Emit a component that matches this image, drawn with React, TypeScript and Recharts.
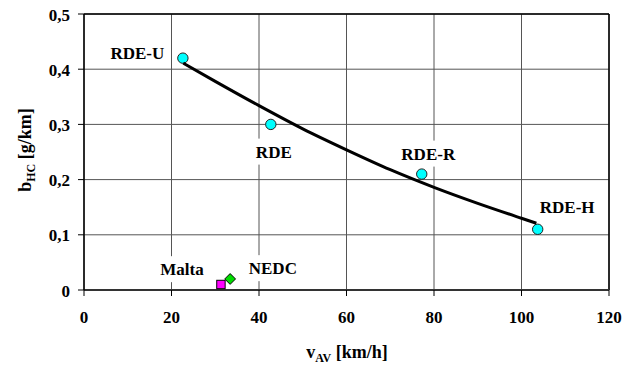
import React from 'react';
import {
  ScatterChart,
  Scatter,
  XAxis,
  YAxis,
  CartesianGrid,
  ReferenceLine,
} from 'recharts';

// ---- data ----
const xTicks = [0, 20, 40, 60, 80, 100, 120];
const yTicks = [0, 0.1, 0.2, 0.3, 0.4, 0.5];
const yTickLabels = ['0', '0,1', '0,2', '0,3', '0,4', '0,5'];

const rdeNames = ['RDE-U', 'RDE', 'RDE-R', 'RDE-H'];
const rdeSpeed = [22.6, 42.7, 77.2, 103.7];
const rdeHC = [0.42, 0.3, 0.21, 0.11];

const maltaName = ['Malta'];
const maltaSpeed = [31.3];
const maltaHC = [0.01];

const nedcName = ['NEDC'];
const nedcSpeed = [33.4];
const nedcHC = [0.02];

const trendSpeed = [22.7, 30, 40, 50, 60, 70, 80, 90, 100, 103.4];
const trendHC = [0.411, 0.378, 0.334, 0.292, 0.254, 0.218, 0.186, 0.157, 0.13, 0.121];

// ---- built tables ----
const rdeData = rdeNames.map((n, i) => ({ name: n, x: rdeSpeed[i], y: rdeHC[i] }));
const maltaData = maltaName.map((n, i) => ({ name: n, x: maltaSpeed[i], y: maltaHC[i] }));
const nedcData = nedcName.map((n, i) => ({ name: n, x: nedcSpeed[i], y: nedcHC[i] }));
const trendData = trendSpeed.map((x, i) => ({ x, y: trendHC[i] }));

// ---- styles ----
const FONT = 'Liberation Serif';
const FS = 17;

// label offsets (center of text relative to marker) and approx widths
const labelStyle: Record<string, { dx: number; dy: number; w: number }> = {
  'RDE-U': { dx: -45.5, dy: -4.8, w: 55 },
  RDE: { dx: 3, dy: 27.2, w: 32 },
  'RDE-R': { dx: 6.5, dy: -20.5, w: 55 },
  'RDE-H': { dx: 29.5, dy: -22, w: 57 },
  Malta: { dx: -39, dy: -15.3, w: 44 },
  NEDC: { dx: 42.7, dy: -10.8, w: 50 },
};

const Label = ({ cx, cy, name }: { cx: number; cy: number; name: string }) => {
  const s = labelStyle[name];
  const lx = cx + s.dx;
  const ly = cy + s.dy;
  return (
    <g>
      <rect x={lx - s.w / 2 - 3} y={ly - 13} width={s.w + 6} height={26} fill="#fff" />
      <text x={lx} y={ly + 6} textAnchor="middle" fontSize={FS} fontWeight="bold" fontFamily={FONT} fill="#000">
        {name}
      </text>
    </g>
  );
};

const CircleShape = (props: any) => {
  const { cx, cy, payload } = props;
  return (
    <g>
      <Label cx={cx} cy={cy} name={payload.name} />
      <circle cx={cx} cy={cy} r={5.2} fill="#00FFFF" stroke="#222" strokeWidth={1} />
    </g>
  );
};

const SquareShape = (props: any) => {
  const { cx, cy, payload } = props;
  return (
    <g>
      <Label cx={cx} cy={cy} name={payload.name} />
      <rect x={cx - 4.2} y={cy - 4.2} width={8.4} height={8.4} fill="#FF00FF" stroke="#000" strokeWidth={1} />
    </g>
  );
};

const DiamondShape = (props: any) => {
  const { cx, cy, payload } = props;
  const r = 5.4;
  return (
    <g>
      <Label cx={cx} cy={cy} name={payload.name} />
      <polygon
        points={`${cx},${cy - r} ${cx + r},${cy} ${cx},${cy + r} ${cx - r},${cy}`}
        fill="#00DD00"
        stroke="#000"
        strokeWidth={1}
      />
    </g>
  );
};

const NoShape = () => <g />;

const XTick = (props: any) => {
  const { x, y, payload } = props;
  return (
    <text x={x} y={y + 27} textAnchor="middle" fontSize={FS} fontWeight="bold" fontFamily={FONT} fill="#000">
      {payload.value}
    </text>
  );
};

const YTick = (props: any) => {
  const { x, y, payload } = props;
  const idx = yTicks.findIndex((t) => Math.abs(t - payload.value) < 1e-6);
  return (
    <text x={x} y={y + 6.5} textAnchor="end" fontSize={FS} fontWeight="bold" fontFamily={FONT} fill="#000">
      {idx >= 0 ? yTickLabels[idx] : payload.value}
    </text>
  );
};

export default function App() {
  return (
    <div style={{ marginLeft: -8, marginTop: -8 }}>
      <ScatterChart width={639} height={369} margin={{ top: 14, right: 30, bottom: 0, left: 0 }}>
        <CartesianGrid stroke="#555" strokeWidth={1} />
        <XAxis
          type="number"
          dataKey="x"
          domain={[0, 120]}
          ticks={xTicks}
          interval={0}
          height={79}
          tickSize={6}
          tickMargin={0}
          tickLine={{ stroke: '#000' }}
          axisLine={{ stroke: '#333', strokeWidth: 2 }}
          tick={<XTick />}
          allowDataOverflow
        />
        <YAxis
          type="number"
          dataKey="y"
          domain={[0, 0.5]}
          ticks={yTicks}
          interval={0}
          width={84}
          tickSize={6}
          tickMargin={8}
          tickLine={{ stroke: '#000' }}
          axisLine={{ stroke: '#000', strokeWidth: 1.5 }}
          tick={<YTick />}
          allowDataOverflow
        />
        <ReferenceLine y={0.5} stroke="#000" strokeWidth={1.5} />
        <ReferenceLine x={120} stroke="#000" strokeWidth={1.5} />
        <Scatter data={rdeData} shape={<CircleShape />} isAnimationActive={false} />
        <Scatter data={maltaData} shape={<SquareShape />} isAnimationActive={false} />
        <Scatter data={nedcData} shape={<DiamondShape />} isAnimationActive={false} />
        <Scatter
          data={trendData}
          shape={<NoShape />}
          line={{ stroke: '#000', strokeWidth: 3 }}
          lineJointType="monotoneX"
          isAnimationActive={false}
        />
        <text x={347} y={358} textAnchor="middle" fontSize={18} fontWeight="bold" fontFamily={FONT} fill="#000">
          v<tspan fontSize={12} dy={4}>AV</tspan>
          <tspan dy={-4}> [km/h]</tspan>
        </text>
        <text
          transform="translate(31,150) rotate(-90)"
          textAnchor="middle"
          fontSize={18}
          fontWeight="bold"
          fontFamily={FONT}
          fill="#000"
        >
          b<tspan fontSize={12} dy={4}>HC</tspan>
          <tspan dy={-4}> [g/km]</tspan>
        </text>
      </ScatterChart>
    </div>
  );
}
